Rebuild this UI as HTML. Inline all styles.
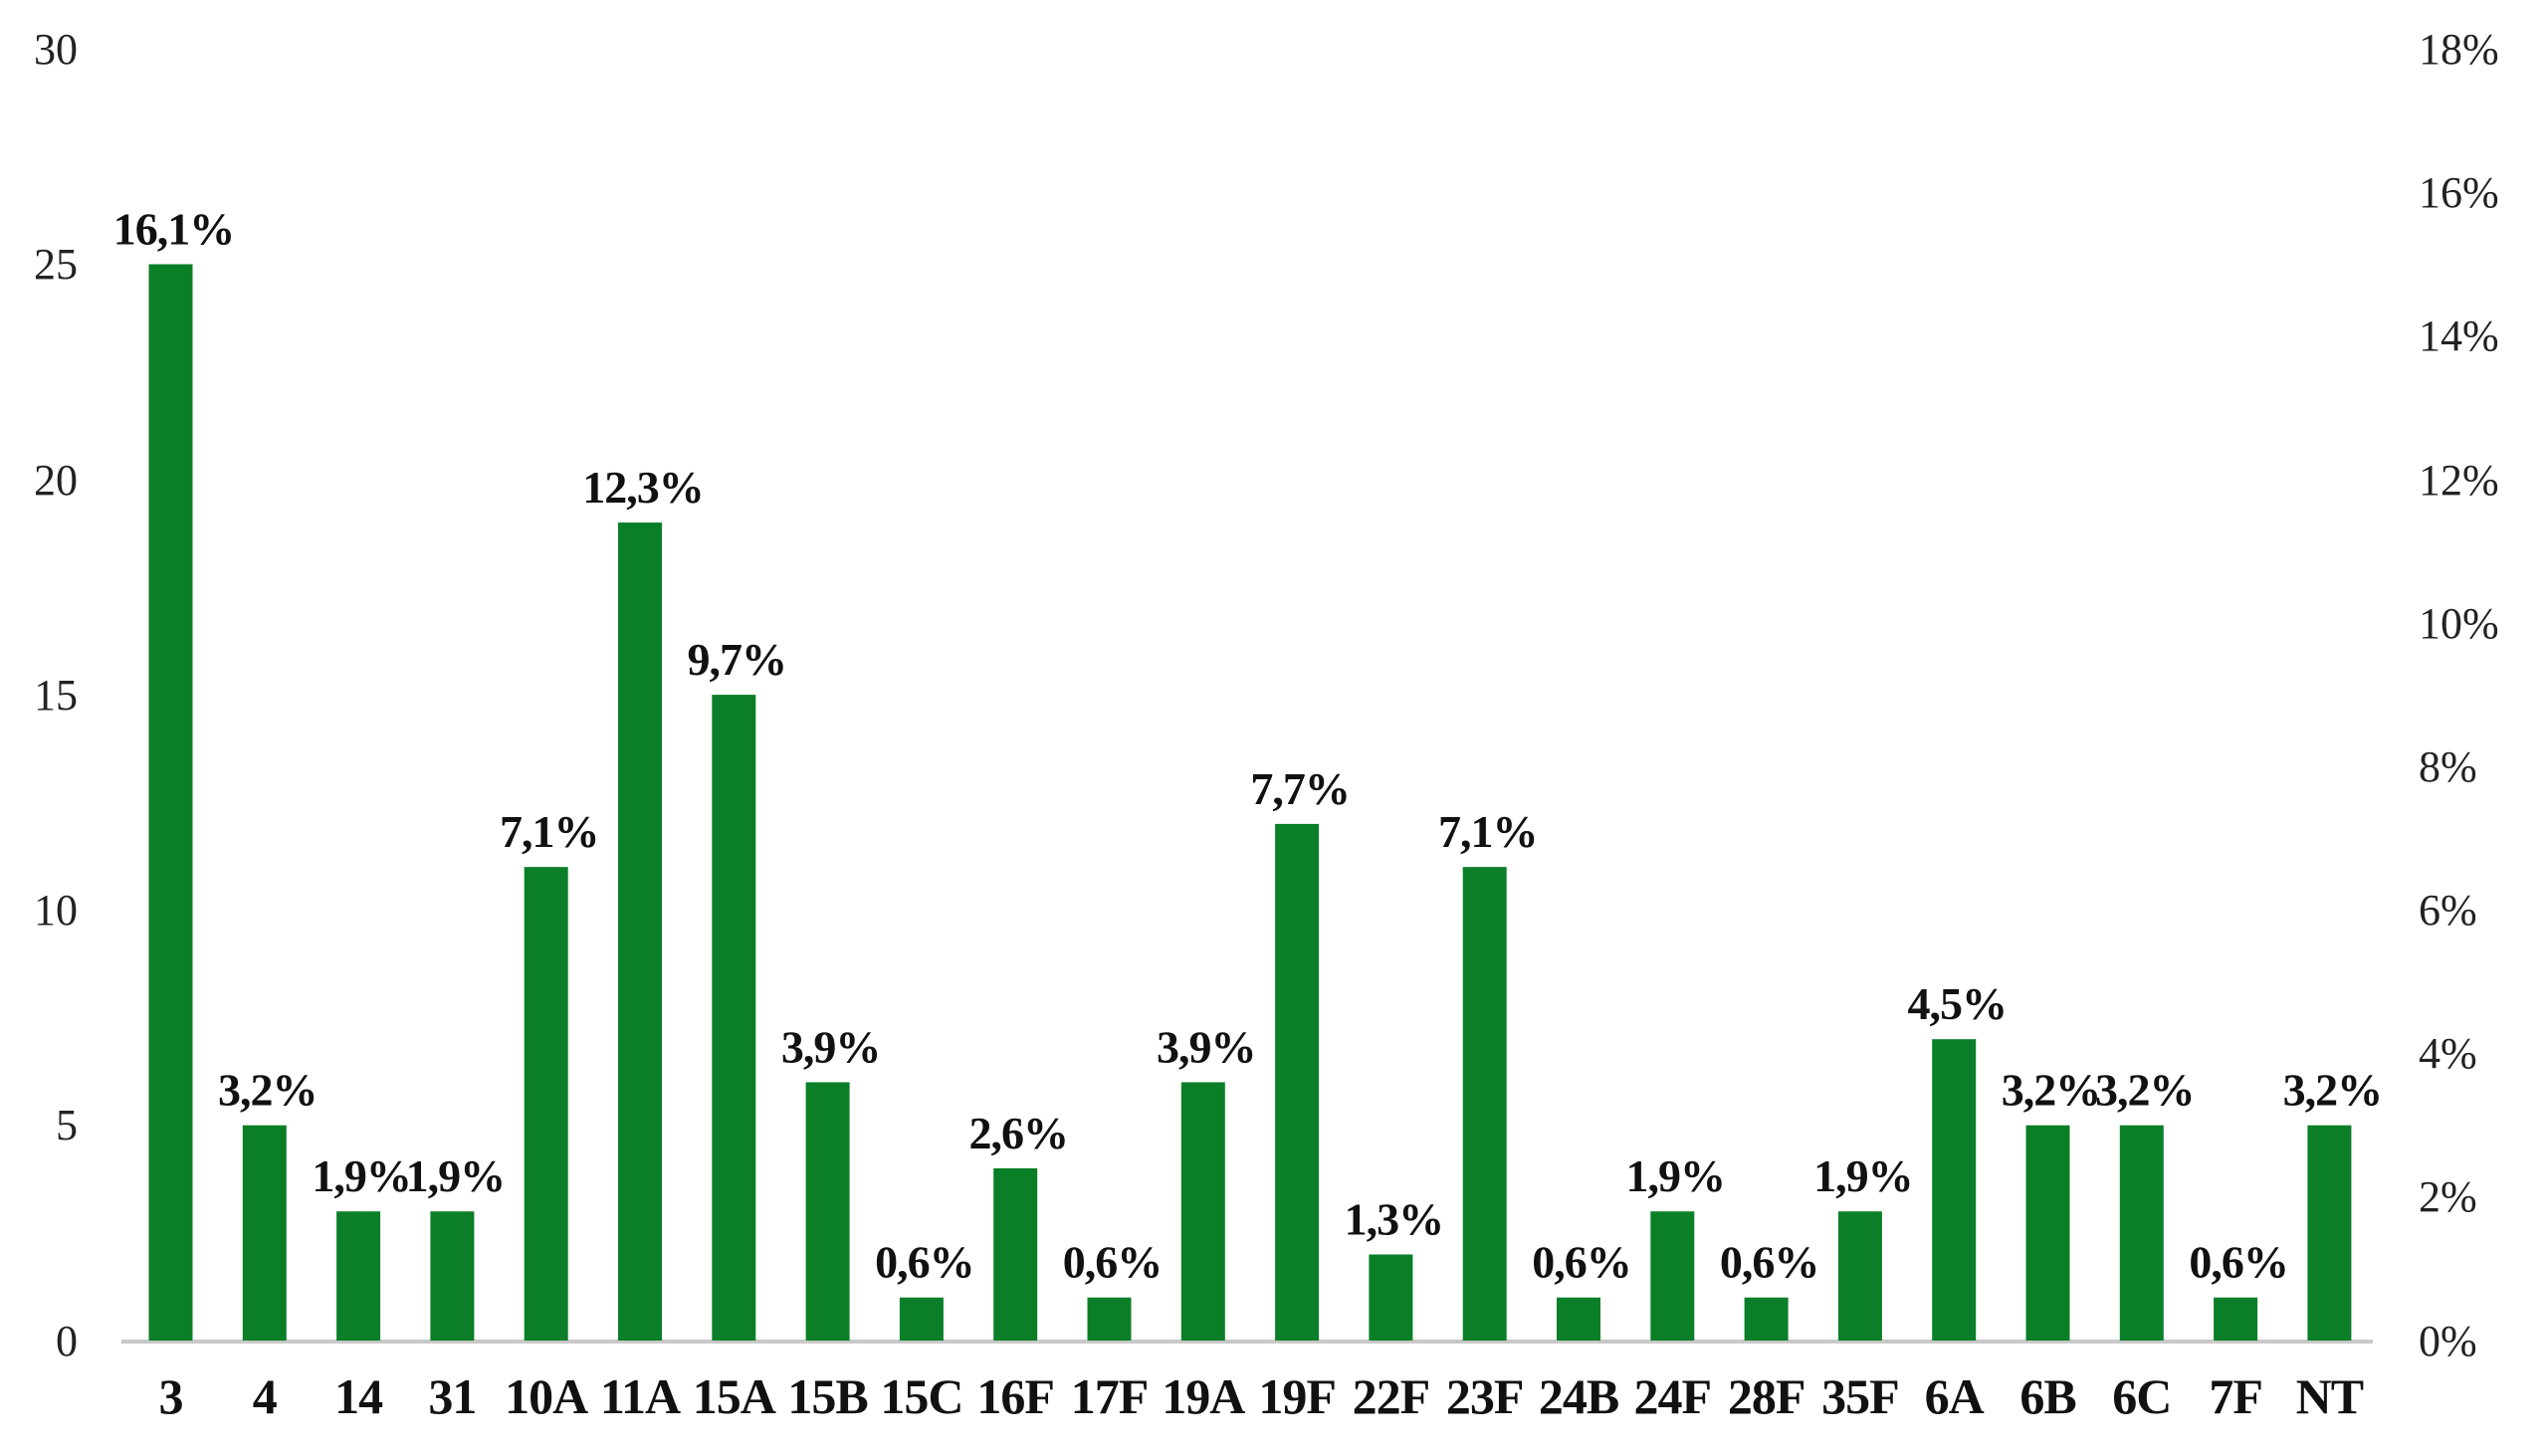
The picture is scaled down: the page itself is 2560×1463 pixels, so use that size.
<!DOCTYPE html>
<html><head><meta charset="utf-8"><style>html,body{margin:0;padding:0;background:#fff}svg{display:block}</style></head>
<body>
<svg width="2560" height="1463" viewBox="0 0 2560 1463" xmlns="http://www.w3.org/2000/svg" font-family="Liberation Serif, serif">
<rect width="2560" height="1463" fill="#fff"/>
<line x1="122" y1="1348" x2="2384" y2="1348" stroke="#c8c8c8" stroke-width="4"/>
<g font-size="44" fill="#222" text-anchor="end">
<text x="78" y="64">30</text><text x="78" y="280">25</text><text x="78" y="497">20</text><text x="78" y="713">15</text><text x="78" y="929">10</text><text x="78" y="1145">5</text><text x="78" y="1362">0</text>
</g>
<g font-size="44" fill="#222" text-anchor="start">
<text x="2430" y="64">18%</text><text x="2430" y="208">16%</text><text x="2430" y="352">14%</text><text x="2430" y="497">12%</text><text x="2430" y="641">10%</text><text x="2430" y="785">8%</text><text x="2430" y="929">6%</text><text x="2430" y="1073">4%</text><text x="2430" y="1217">2%</text><text x="2430" y="1362">0%</text>
</g>
<g id="bars" fill="#0a7f28"></g>
<g id="lbl" font-size="46" font-weight="bold" fill="#111" text-anchor="middle" letter-spacing="-1"></g>
<g id="cat" font-size="50" font-weight="bold" fill="#111" text-anchor="middle" letter-spacing="-1"></g>
<script>
(function(){
var v=[25,5,3,3,11,19,15,6,1,4,1,6,12,2,11,1,3,1,3,7,5,5,1,5];
var p=["16,1%","3,2%","1,9%","1,9%","7,1%","12,3%","9,7%","3,9%","0,6%","2,6%","0,6%","3,9%","7,7%","1,3%","7,1%","0,6%","1,9%","0,6%","1,9%","4,5%","3,2%","3,2%","0,6%","3,2%"];
var c=["3","4","14","31","10A","11A","15A","15B","15C","16F","17F","19A","19F","22F","23F","24B","24F","28F","35F","6A","6B","6C","7F","NT"];
var ns="http://www.w3.org/2000/svg",b=document.getElementById("bars"),l=document.getElementById("lbl"),k=document.getElementById("cat");
for(var i=0;i<24;i++){var cx=171.5+i*94.3,ty=1347-v[i]*43.26;
var r=document.createElementNS(ns,"rect");r.setAttribute("x",cx-22);r.setAttribute("y",ty);r.setAttribute("width",44);r.setAttribute("height",1347-ty);b.appendChild(r);
var t=document.createElementNS(ns,"text");t.setAttribute("x",cx+3);t.setAttribute("y",ty-20);t.textContent=p[i];l.appendChild(t);
var u=document.createElementNS(ns,"text");u.setAttribute("x",cx);u.setAttribute("y",1420);u.textContent=c[i];k.appendChild(u);}
})();
</script>
</svg>
</body></html>
